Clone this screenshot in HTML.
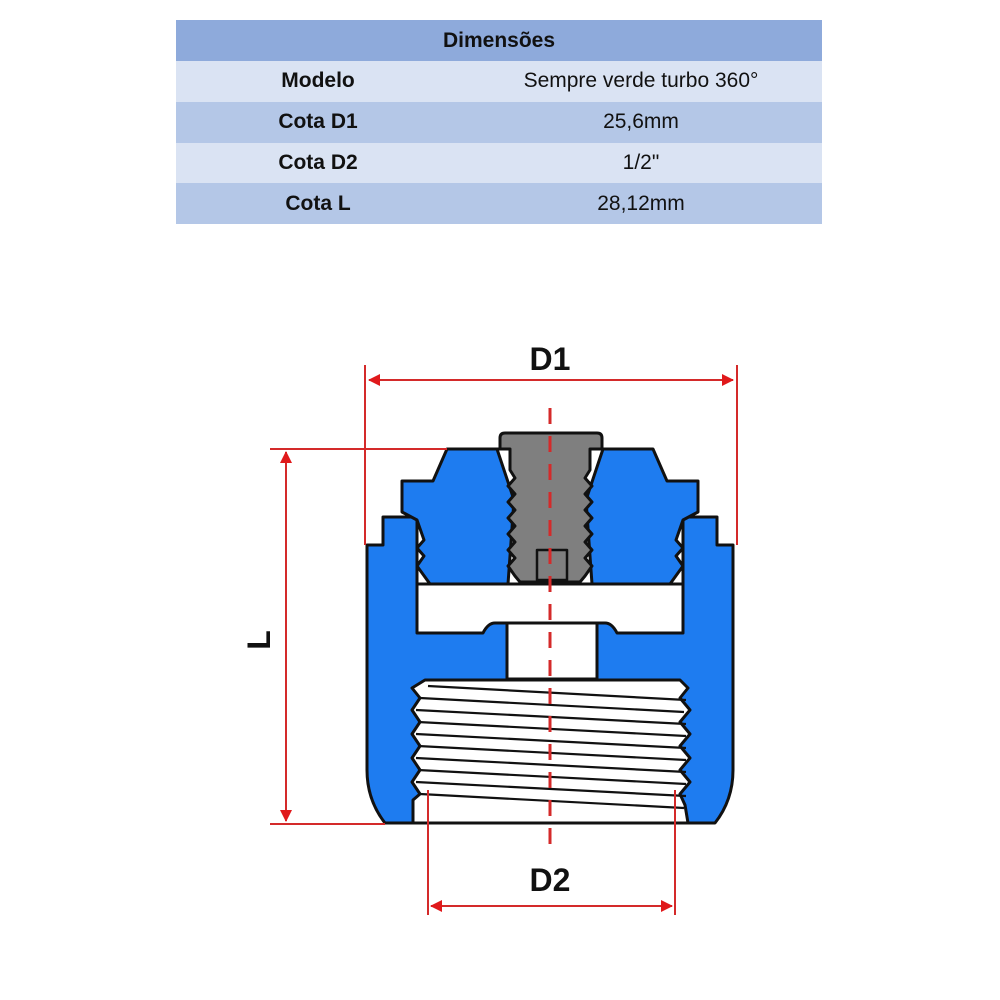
<!DOCTYPE html>
<html><head><meta charset="utf-8"><style>
body{margin:0;background:#fff;}
.wrap{position:relative;width:1000px;height:1000px;overflow:hidden;background:#fff;font-family:"Liberation Sans",sans-serif;}
table{position:absolute;left:176px;top:20px;width:646px;border-collapse:collapse;font-family:"Liberation Sans",sans-serif;font-size:21px;color:#111;}
td{height:40.8px;padding:0;text-align:center;}
.h td{background:#8eaadb;font-weight:bold;height:41px;}
.l td{background:#dae3f3;}
.m td{background:#b4c7e7;}
td.k{font-weight:bold;width:284px;}
</style></head><body><div class="wrap">
<table>
<tr class="h"><td colspan="2">Dimensões</td></tr>
<tr class="l"><td class="k">Modelo</td><td>Sempre verde turbo 360°</td></tr>
<tr class="m"><td class="k">Cota D1</td><td>25,6mm</td></tr>
<tr class="l"><td class="k">Cota D2</td><td>1/2"</td></tr>
<tr class="m"><td class="k">Cota L</td><td>28,12mm</td></tr>
</table>
<svg width="1000" height="1000" style="position:absolute;left:0;top:0">
<defs>
<marker id="a" markerWidth="12" markerHeight="12" refX="11" refY="6" orient="auto" markerUnits="userSpaceOnUse"><path d="M0,0 L12,6 L0,12 z" fill="#e0191b"/></marker>
<marker id="b" markerWidth="12" markerHeight="12" refX="1" refY="6" orient="auto" markerUnits="userSpaceOnUse"><path d="M12,0 L0,6 L12,12 z" fill="#e0191b"/></marker>
</defs>
<g stroke="#111" stroke-width="3" stroke-linejoin="round">
<!-- body -->
<path fill="#1e7cf0" d="M383,517 L417,517 L417,584 L683,584 L683,517 L717,517 L717,545 L733,545 L733,770 Q733,800 715,823 L413,823 L385,823 Q367,800 367,770 L367,545 L383,545 Z"/>
<path fill="#fff" d="M417,584 L683,584 L683,633 L617,633 Q612,623 605,623 L495,623 Q488,623 483,633 L417,633 Z"/>
<rect x="507" y="623" width="90" height="56" fill="#fff"/>
<path fill="#fff" d="M425,680 L680,680 L688,688 L680,698 L690,710 L680,722 L690,734 L680,746 L690,758 L680,770 L690,782 L680,794 L685,805 L688,823 L413,823 L413,800 L420,794 L412,782 L420,770 L412,758 L420,746 L412,734 L420,722 L412,710 L420,698 L412,688 Z"/>
<g stroke-width="2.2" fill="none">
<path d="M428,686 L686,700 M420,698 L684,712 M416,710 L686,724 M418,722 L686,736 M416,734 L686,748 M418,746 L686,760 M416,758 L686,772 M418,770 L686,784 M416,782 L686,796 M420,794 L684,808"/>
</g>
<!-- cap -->
<path fill="#1e7cf0" d="M447,449 L653,449 L667,481 L698,481 L698,512 L683,520 L676,540 L683,548 L676,556 L683,566 L670,584 L430,584 L417,566 L424,556 L417,548 L424,540 L417,520 L402,512 L402,481 L433,481 Z"/>
<!-- screw hole -->
<path fill="#fff" d="M497,449 L603,449 L586,500 L592,584 L508,584 L514,500 Z"/>
<path fill="#7f7f7f" d="M500,449 L500,438 Q500,433 505,433 L597,433 Q602,433 602,438 L602,449 L590,449 L590,470 L585,478 L592,486 L585,494 L592,502 L585,510 L592,518 L585,526 L592,534 L585,542 L592,550 L585,558 L592,566 L585,576 L580,582 L520,582 L515,576 L508,566 L515,558 L508,550 L515,542 L508,534 L515,526 L508,518 L515,510 L508,502 L515,494 L508,486 L515,478 L510,470 L510,449 Z"/>
<rect x="537" y="550" width="30" height="30" fill="none" stroke-width="2.5"/>
</g>
<!-- dimensions -->
<g stroke="#d42a2a" stroke-width="2" fill="none">
<line x1="365" y1="365" x2="365" y2="545"/>
<line x1="737" y1="365" x2="737" y2="545"/>
<line x1="369" y1="380" x2="733" y2="380" marker-start="url(#b)" marker-end="url(#a)"/>
<line x1="270" y1="449" x2="447" y2="449"/>
<line x1="270" y1="824" x2="385" y2="824"/>
<line x1="286" y1="452" x2="286" y2="821" marker-start="url(#b)" marker-end="url(#a)"/>
<line x1="428" y1="790" x2="428" y2="915"/>
<line x1="675" y1="790" x2="675" y2="915"/>
<line x1="431" y1="906" x2="672" y2="906" marker-start="url(#b)" marker-end="url(#a)"/>
<line x1="550" y1="408" x2="550" y2="852" stroke-width="3" stroke-dasharray="16,12"/>
</g>
<g font-family="Liberation Sans,sans-serif" font-weight="bold" font-size="32" fill="#111" text-anchor="middle">
<text x="550" y="370">D1</text>
<text x="550" y="891">D2</text>
<text x="0" y="0" transform="translate(270,640) rotate(-90)">L</text>
</g>
</svg>
</div></body></html>
